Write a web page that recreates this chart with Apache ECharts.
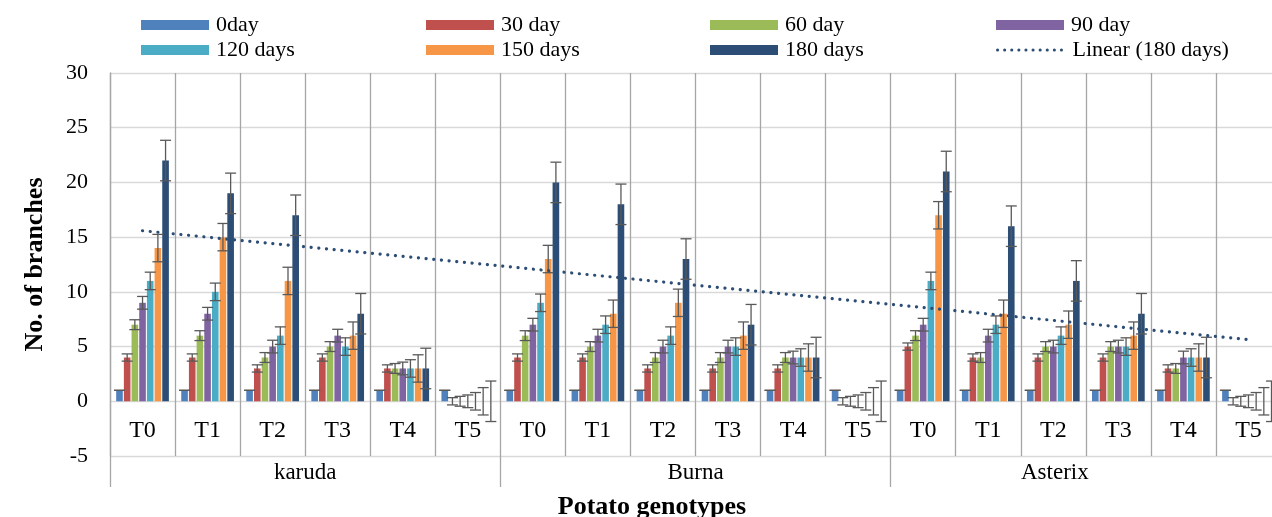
<!DOCTYPE html>
<html><head><meta charset="utf-8">
<script src="https://cdn.jsdelivr.net/npm/echarts@6.0.0/dist/echarts.min.js"></script>
<style>html,body{margin:0;padding:0;background:#fff}#c{width:1272px;height:517px}</style>
</head><body><div id="c"></div>
<script>
// ---- data ----
const genotypes = ['karuda', 'Burna', 'Asterix'];
const treatments = ['T0', 'T1', 'T2', 'T3', 'T4', 'T5'];
const seriesNames = ['0day', '30 day', '60 day', '90 day', '120 days', '150 days', '180 days'];
const trendName = 'Linear (180 days)';
const day0   = [1, 1, 1, 1, 1, 1,   1, 1, 1, 1, 1, 1,   1, 1, 1, 1, 1, 1];
const day30  = [4, 4, 3, 4, 3, 0,   4, 4, 3, 3, 3, 0,   5, 4, 4, 4, 3, 0];
const day60  = [7, 6, 4, 5, 3, 0,   6, 5, 4, 4, 4, 0,   6, 4, 5, 5, 3, 0];
const day90  = [9, 8, 5, 6, 3, 0,   7, 6, 5, 5, 4, 0,   7, 6, 5, 5, 4, 0];
const day120 = [11, 10, 6, 5, 3, 0, 9, 7, 6, 5, 4, 0,   11, 7, 6, 5, 4, 0];
const day150 = [14, 15, 11, 6, 3, 0, 13, 8, 9, 6, 4, 0, 17, 8, 7, 6, 4, 0];
const day180 = [22, 19, 17, 8, 3, 0, 20, 18, 13, 7, 4, 0, 21, 16, 11, 8, 4, 0];
const errorBars = [0, 0.33, 0.45, 0.58, 0.8, 1.25, 1.85];
const yTicks = { min: -5, max: 30, interval: 5 };

// ---- build ----
const allValues = [day0, day30, day60, day90, day120, day150, day180];
const colors = ['#4F81BD', '#C0504D', '#9BBB59', '#8064A2', '#4BACC6', '#F79646', '#2C4D75'];
const categories = [];
genotypes.forEach(g => treatments.forEach(t => categories.push(g + '|' + t)));

// least-squares linear trend of the 180-day series (as Excel's trendline)
const n = day180.length;
const xs = day180.map((_, i) => i + 1);
const mx = xs.reduce((a, b) => a + b, 0) / n;
const my = day180.reduce((a, b) => a + b, 0) / n;
let sxy = 0, sxx = 0;
xs.forEach((x, i) => { sxy += (x - mx) * (day180[i] - my); sxx += (x - mx) * (x - mx); });
const slope = sxy / sxx;
const trend = xs.map(x => my + slope * (x - mx));

const FONT = 'Liberation Serif';
const CAT_GAP = 0.19, BAR_GAP = 0.16, NB = 7;

const series = [];
allValues.forEach((vals, i) => {
  series.push({
    type: 'bar', name: seriesNames[i], data: vals,
    itemStyle: { color: colors[i] },
    barGap: (BAR_GAP * 100) + '%', barCategoryGap: (CAT_GAP * 100) + '%',
    z: 2
  });
});
allValues.forEach((vals, i) => {
  series.push({
    type: 'custom', z: 5, silent: true,
    renderItem(params, api) {
      const x = api.value(0), y = api.value(1), e = api.value(2);
      const catW = api.size([1, 0])[0];
      const groupW = catW * (1 - CAT_GAP);
      const bw = groupW / (NB + (NB - 1) * BAR_GAP);
      const cx = api.coord([x, y])[0] - groupW / 2 + i * bw * (1 + BAR_GAP) + bw / 2;
      const top = api.coord([x, y + e])[1], bot = api.coord([x, y - e])[1];
      const hw = 5.5;
      const st = { stroke: '#595959', lineWidth: 1.3 };
      return { type: 'group', children: [
        { type: 'line', shape: { x1: cx, y1: top, x2: cx, y2: bot }, style: st },
        { type: 'line', shape: { x1: cx - hw, y1: top, x2: cx + hw, y2: top }, style: st },
        { type: 'line', shape: { x1: cx - hw, y1: bot, x2: cx + hw, y2: bot }, style: st }
      ]};
    },
    data: vals.map((v, k) => [k, v, errorBars[i]])
  });
});
series.push({
  type: 'line', name: trendName, data: trend, symbol: 'none', z: 10,
  lineStyle: { color: '#2C4D75', width: 3.2, type: [0.1, 7.6], cap: 'round' },
  itemStyle: { color: '#2C4D75' }
});

const legendCols = [141, 426, 710, 996];
const legendRows = [25, 50];
const legendNames = [...seriesNames, trendName];
const legends = legendNames.map((name, k) => {
  const col = k % 4, row = Math.floor(k / 4);
  const L = {
    left: legendCols[col], top: legendRows[row] - 11, padding: 0,
    itemWidth: 68, itemHeight: 10, itemGap: 0, selectedMode: false,
    textStyle: { fontFamily: FONT, fontSize: 22, color: '#000', padding: [0, 0, 0, 2] },
    data: [name]
  };
  if (name === trendName) {
    L.lineStyle = { width: 3, type: [0.1, 7], cap: 'round', color: '#2C4D75' };
    L.itemStyle = { opacity: 0 };
  } else {
    L.icon = 'rect';
  }
  return L;
});

// the last group is cut at the right edge; its label sits centred in the visible part
const genotypeAxisData = genotypes.map((g, i) =>
  i === genotypes.length - 1 ? { value: g, textStyle: { padding: [0, 62, 0, 0] } } : g);

const chart = echarts.init(document.getElementById('c'));
chart.setOption({
  animation: false,
  backgroundColor: '#fff',
  legend: legends,
  grid: { left: 110, right: -9, top: 73, bottom: 61, containLabel: false, outerBoundsMode: 'none' },
  xAxis: [
    {
      type: 'category', data: categories, position: 'bottom',
      axisLine: { show: false, onZero: false },
      axisTick: { show: false },
      splitLine: { show: true, interval: 0, lineStyle: { color: '#A6A6A6', width: 1.3 } },
      axisLabel: { interval: 0, margin: -37, fontFamily: FONT, fontSize: 24, color: '#000',
        formatter: v => v.split('|')[1] }
    },
    {
      type: 'category', data: genotypeAxisData, position: 'bottom',
      axisLine: { show: false, onZero: false },
      axisTick: { show: true, interval: 0, length: 31, lineStyle: { color: '#A6A6A6', width: 1.3 } },
      splitLine: { show: false },
      axisLabel: { interval: 0, margin: 5, fontFamily: FONT, fontSize: 23, color: '#000' }
    }
  ],
  yAxis: {
    type: 'value', min: yTicks.min, max: yTicks.max, interval: yTicks.interval,
    axisLine: { show: true, lineStyle: { color: '#A6A6A6', width: 1.3 } },
    axisTick: { show: false },
    splitLine: { show: true, lineStyle: { color: '#D9D9D9', width: 1.3 } },
    axisLabel: { margin: 22, fontFamily: FONT, fontSize: 22, color: '#000' },
    name: 'No. of branches', nameLocation: 'middle', nameGap: 62,
    nameTextStyle: { fontFamily: FONT, fontSize: 26, fontWeight: 'bold', color: '#000' }
  },
  graphic: [{
    type: 'text', x: 652, y: 507,
    style: { text: 'Potato genotypes', fontFamily: FONT, fontSize: 26, fontWeight: 'bold', fill: '#000',
      align: 'center', verticalAlign: 'middle' }
  }],
  series
});
</script></body></html>
